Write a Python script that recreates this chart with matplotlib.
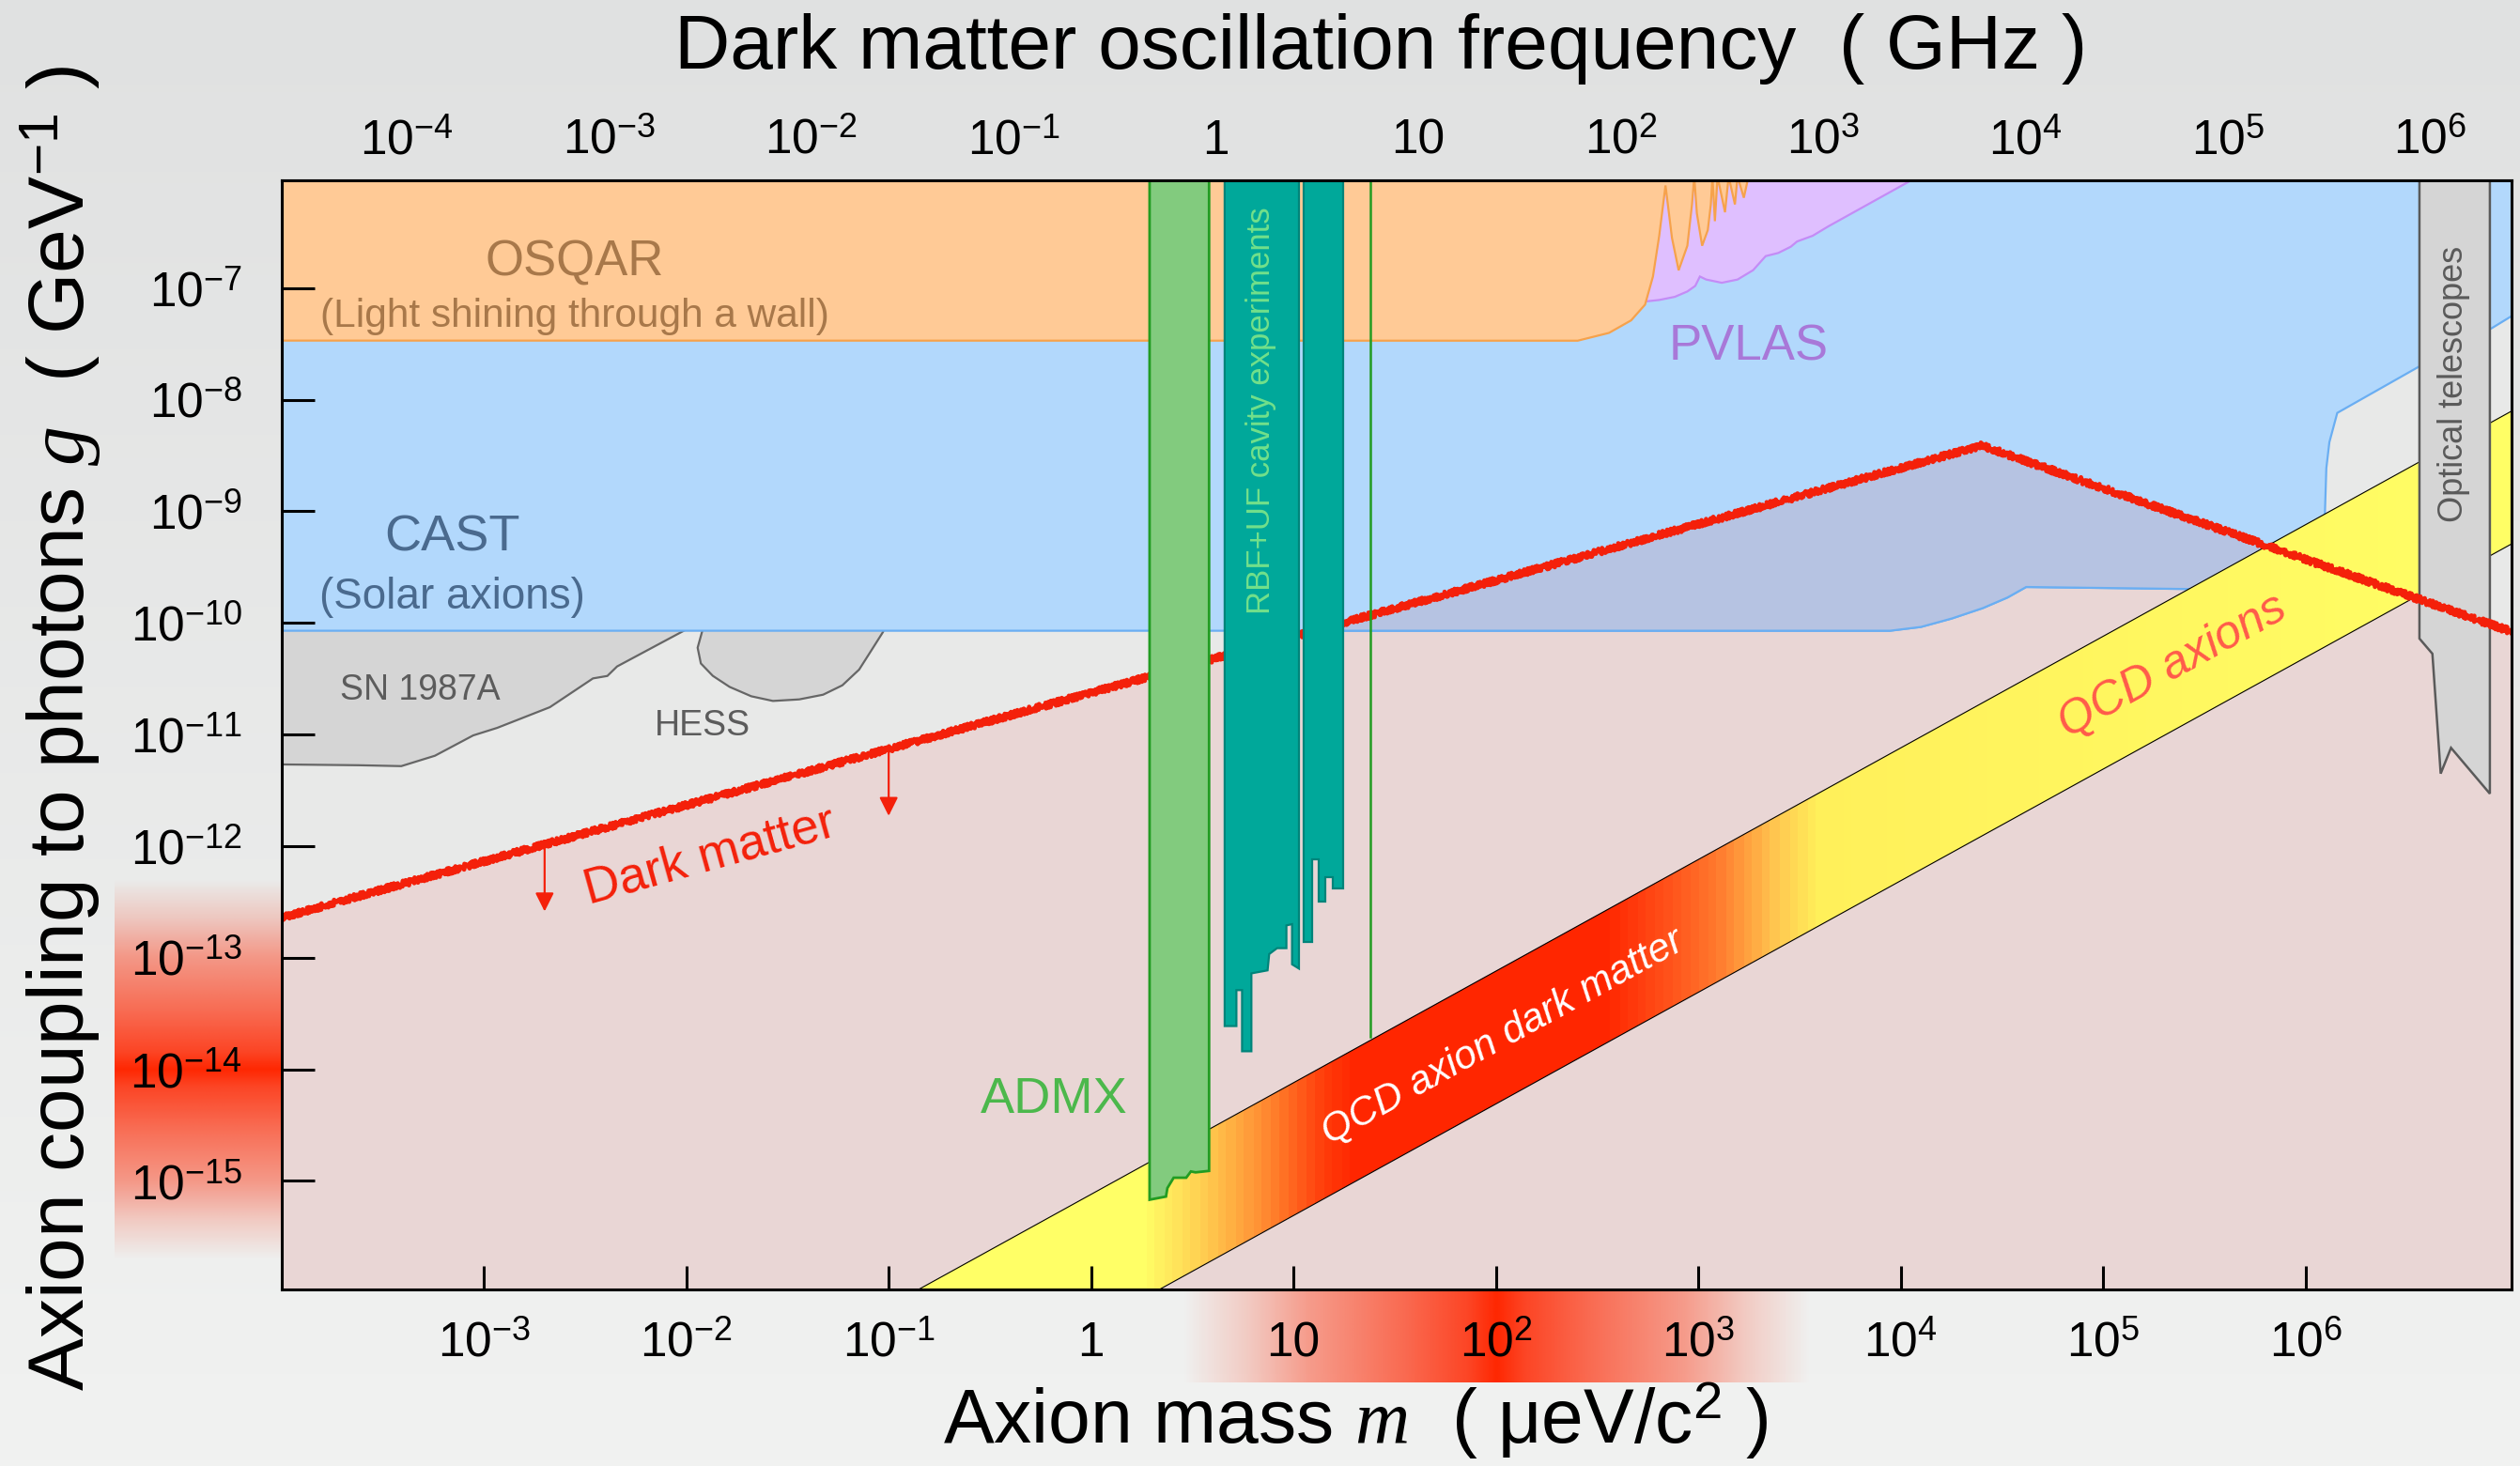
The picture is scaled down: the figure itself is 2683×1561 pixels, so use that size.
import numpy as np
import matplotlib.pyplot as plt
from matplotlib.colors import LinearSegmentedColormap, Normalize, to_rgb
from matplotlib.patches import Polygon
from matplotlib.ticker import FixedLocator, FuncFormatter, NullLocator

plt.rcParams['font.family'] = ['Liberation Sans', 'DejaVu Sans']
plt.rcParams['mathtext.fontset'] = 'custom'
plt.rcParams['mathtext.rm'] = 'Liberation Sans'
plt.rcParams['mathtext.it'] = 'Liberation Serif:italic'
plt.rcParams['mathtext.bf'] = 'Liberation Sans:bold'

# ranges, log10 of mass (μeV) and coupling (GeV^-1)
log_m_range = (-4.0, 7.02)
log_g_range = (-15.97, -6.03)
GHZ_PER_UEV = 0.2418

mass_ticks = [1e-3, 1e-2, 1e-1, 1, 10, 1e2, 1e3, 1e4, 1e5, 1e6]
freq_ticks = [1e-4, 1e-3, 1e-2, 1e-1, 1, 10, 1e2, 1e3, 1e4, 1e5, 1e6]
g_ticks = [1e-7, 1e-8, 1e-9, 1e-10, 1e-11, 1e-12, 1e-13, 1e-14, 1e-15]

# excluded regions, all as (log10 m, log10 g)
osqar_lm = [-4.1, 2.404, 2.559, 2.668, 2.737, 2.776, 2.807, 2.838, 2.870, 2.903, 2.946,
            2.969, 2.980, 2.993, 3.019, 3.047, 3.062, 3.070, 3.082, 3.095, 3.132, 3.150,
            3.181, 3.194, 3.225, 3.248, 3.30, -4.1]
osqar_lg = [-7.47, -7.471, -7.401, -7.289, -7.148, -6.896, -6.531, -6.08, -6.55, -6.84, -6.62,
            -6.25, -6.0, -6.33, -6.62, -6.48, -6.25, -6.0, -6.40, -6.0, -6.32, -6.0,
            -6.25, -6.0, -6.19, -6.0, -5.9, -5.9]

pvlas_lm = [2.70, 2.737, 2.807, 2.884, 2.946, 2.985, 3.008, 3.039, 3.116, 3.194, 3.271, 3.333,
            3.395, 3.457, 3.488, 3.565, 3.642, 4.060, 4.15, 2.70]
pvlas_lg = [-7.12, -7.120, -7.106, -7.078, -7.030, -6.980, -6.896, -6.923, -6.952, -6.923,
            -6.839, -6.713, -6.685, -6.629, -6.582, -6.531, -6.447, -6.026, -5.9, -5.9]

cast_lm = [-4.1, 3.947, 4.10, 4.253, 4.406, 4.528, 4.62, 5.461, 6.095, 6.103, 6.118, 6.157,
           6.56, 6.923, 7.1, 7.1, -4.1]
cast_lg = [-10.07, -10.07, -10.036, -9.96, -9.867, -9.772, -9.678, -9.697, -9.077, -8.613,
           -8.381, -8.118, -7.704, -7.356, -7.16, -5.9, -5.9]

sn1987a_lm = [-4.1, -1.94, -2.342, -2.39, -2.461, -2.674, -2.934, -3.053, -3.242, -3.408, -3.62, -4.1]
sn1987a_lg = [-10.0, -10.0, -10.39, -10.475, -10.497, -10.755, -10.94, -11.008, -11.19, -11.283,
              -11.275, -11.266]

hess_lm = [-1.91, -1.944, -1.928, -1.869, -1.786, -1.679, -1.572, -1.442, -1.324, -1.229,
           -1.146, -1.087, -1.028, -1.01]
hess_lg = [-10.0, -10.222, -10.363, -10.474, -10.573, -10.657, -10.699, -10.685, -10.643,
           -10.559, -10.418, -10.25, -10.081, -10.0]

admx_lm = [0.289, 0.289, 0.370, 0.377, 0.408, 0.470, 0.493, 0.516, 0.583, 0.583]
admx_lg = [-5.9, -15.168, -15.14, -15.064, -14.971, -14.971, -14.915, -14.923, -14.91, -5.9]
admx_high_lm = 1.378
admx_high_lg = -13.71

rbf1_lm = [0.660, 0.660, 0.718, 0.718, 0.746, 0.746, 0.792, 0.792, 0.872, 0.880, 0.919, 0.965,
           0.965, 0.993, 0.993, 1.027, 1.027]
rbf1_lg = [-5.9, -13.612, -13.612, -13.290, -13.290, -13.838, -13.838, -13.140, -13.113, -12.967,
           -12.914, -12.914, -12.710, -12.699, -13.059, -13.097, -5.9]
rbf2_lm = [1.052, 1.052, 1.092, 1.092, 1.123, 1.123, 1.159, 1.159, 1.194, 1.194, 1.247, 1.247]
rbf2_lg = [-5.9, -12.860, -12.860, -12.119, -12.119, -12.496, -12.496, -12.280, -12.280, -12.377,
           -12.377, -5.9]

telescope_lm = [6.563, 6.563, 6.627, 6.668, 6.719, 6.911, 6.911]
telescope_lg = [-5.9, -10.14, -10.276, -11.35, -11.119, -11.53, -5.9]

# dark matter upper bound (kinked line) and the arrows hanging from it
dm_lm = [-4.0, 4.40, 7.02]
dm_lg = [-12.64, -8.41, -10.08]
dm_arrow_lm = [-2.70, -1.0]
dm_arrow_drop = 0.6

# QCD axion band: g = m * 10**ratio
qcd_upper_ratio = -15.12
qcd_lower_ratio = -16.31
band_stops_lm = [-4.1, 0.25, 0.55, 0.85, 1.15, 1.3, 2.55, 2.85, 3.1, 3.4, 3.6, 7.2]
band_stops_col = ['#ffff66', '#ffff66', '#ffcd50', '#ff8c32', '#ff3c0a', '#ff2600', '#ff2600',
                  '#ff5019', '#ff782d', '#ffc850', '#fff05a', '#ffff66']

# glow behind the dark-matter parts of both axes
glow_pos = [0, 0.09, 0.3, 0.6, 0.8, 1.0]
glow_alpha = [1, 0.85, 0.66, 0.42, 0.18, 0]
glow_g_center, glow_g_half = -14.0, 1.7
glow_m_center, glow_m_half = 2.0, 1.55

red = '#f4200a'

fig = plt.figure(figsize=(26.83, 15.61), dpi=100)

# soft background, a touch darker at the top
bg_top = np.array(to_rgb('#e0e1e1'))
bg_bot = np.array(to_rgb('#f1f2f1'))
t = np.linspace(0, 1, 256)[:, None, None]
bg = fig.add_axes([0, 0, 1, 1], zorder=-3)
bg.imshow(bg_top[None, None, :] * (1 - t) + bg_bot[None, None, :] * t,
          aspect='auto', extent=[0, 1, 0, 1], origin='upper')
bg.axis('off')

ax_left, ax_bottom, ax_w, ax_h = 0.1117, 0.1206, 0.8851, 0.7567
ax = fig.add_axes([ax_left, ax_bottom, ax_w, ax_h])
ax.set_xscale('log')
ax.set_yscale('log')
ax.set_xlim(10 ** log_m_range[0], 10 ** log_m_range[1])
ax.set_ylim(10 ** log_g_range[0], 10 ** log_g_range[1])
ax.set_facecolor('#e8e9e8')


def glow_rgba(d, half):
    a = np.interp(np.abs(d) / half, glow_pos, glow_alpha)
    rgba = np.zeros((len(d), 4))
    rgba[:, :3] = to_rgb('#ff2600')
    rgba[:, 3] = a
    return rgba


# red glow along the coupling axis
gl = fig.add_axes([0.0456, ax_bottom, ax_left - 0.0456, ax_h], zorder=-1)
lg_rows = np.linspace(glow_g_center - glow_g_half, glow_g_center + glow_g_half, 400)
gl.imshow(glow_rgba(lg_rows - glow_g_center, glow_g_half)[:, None, :], aspect='auto',
          extent=[0, 1, lg_rows[0], lg_rows[-1]], origin='lower', interpolation='bilinear')
gl.set_xlim(0, 1)
gl.set_ylim(*log_g_range)
gl.axis('off')

# red glow along the mass axis
gb = fig.add_axes([ax_left, 0.0569, ax_w, 0.0624], zorder=-1)
lm_cols = np.linspace(glow_m_center - glow_m_half, glow_m_center + glow_m_half, 400)
gb.imshow(glow_rgba(lm_cols - glow_m_center, glow_m_half)[None, :, :], aspect='auto',
          extent=[lm_cols[0], lm_cols[-1], 0, 1], origin='lower', interpolation='bilinear')
gb.set_xlim(*log_m_range)
gb.set_ylim(0, 1)
gb.axis('off')


def region(lm, lg, **kw):
    p = Polygon(np.column_stack([10 ** np.asarray(lm), 10 ** np.asarray(lg)]), closed=True, **kw)
    ax.add_patch(p)
    return p


# region below the dark matter line
dm_region = region(dm_lm + [dm_lm[-1], dm_lm[0]], dm_lg + [-17, -17],
                   facecolor='#e9d6d5', edgecolor='none', zorder=1)

region(sn1987a_lm, sn1987a_lg, facecolor='#d5d5d5', edgecolor='#666666', lw=1.6, zorder=1.5)
region(hess_lm, hess_lg, facecolor='#d5d5d5', edgecolor='#666666', lw=1.6, zorder=1.5)

region(cast_lm, cast_lg, facecolor='#b2d8fc', edgecolor='#6aaef2', lw=1.6, zorder=2)
cast_over = region(cast_lm, cast_lg, facecolor='#b6c3e2', edgecolor='#6aaef2', lw=1.6, zorder=2.1)
cast_over.set_clip_path(dm_region)
cast_over.set_clip_box(ax.bbox)

region(pvlas_lm, pvlas_lg, facecolor='#dfbfff', edgecolor='#c48cf6', lw=1.6, zorder=2.3)
region(osqar_lm, osqar_lg, facecolor='#ffca96', edgecolor='#f6a24c', lw=1.6, zorder=2.4)

# QCD axion band with dark matter colouring along the mass axis
band_edges = np.linspace(band_stops_lm[0], band_stops_lm[-1], 900)
band_cmap = LinearSegmentedColormap.from_list(
    'qcd', [((s - band_stops_lm[0]) / (band_stops_lm[-1] - band_stops_lm[0]), c)
            for s, c in zip(band_stops_lm, band_stops_col)])
mesh = ax.pcolormesh(10 ** band_edges, [1e-18, 1e-5],
                     (0.5 * (band_edges[:-1] + band_edges[1:]))[None, :],
                     cmap=band_cmap, norm=Normalize(band_stops_lm[0], band_stops_lm[-1]),
                     shading='flat', zorder=3)
blm = np.array([band_stops_lm[0], band_stops_lm[-1]])
band_patch = Polygon(np.column_stack([10 ** np.r_[blm, blm[::-1]],
                                      10 ** np.r_[blm + qcd_upper_ratio, blm[::-1] + qcd_lower_ratio]]),
                     closed=True, transform=ax.transData)
mesh.set_clip_path(band_patch)
mesh.set_clip_box(ax.bbox)
for ratio in (qcd_upper_ratio, qcd_lower_ratio):
    ax.plot(10 ** blm, 10 ** (blm + ratio), color='black', lw=0.8, zorder=3.1)

region(telescope_lm, telescope_lg, facecolor='#d5d5d5', edgecolor='#5a5a5a', lw=1.8, zorder=3.5)

# dark matter line
dm_line, = ax.plot(10 ** np.array(dm_lm), 10 ** np.array(dm_lg), color=red, lw=3.4, zorder=4)
dm_line.set_sketch_params(scale=3.2, length=3, randomness=2)
for alm in dm_arrow_lm:
    start = np.interp(alm, dm_lm, dm_lg)
    ax.annotate('', xy=(10 ** alm, 10 ** (start - dm_arrow_drop)), xytext=(10 ** alm, 10 ** start),
                arrowprops=dict(arrowstyle='-|>,head_length=0.6,head_width=0.3', color=red, lw=1.6,
                                mutation_scale=20, shrinkA=0, shrinkB=0), zorder=4)

# haloscopes
region(admx_lm, admx_lg, facecolor='#82cb7e', edgecolor='#229c22', lw=2.0, zorder=5)
ax.plot([10 ** admx_high_lm] * 2, [10 ** admx_high_lg, 1e-5], color='#229c22', lw=1.8, zorder=5)
region(rbf1_lm, rbf1_lg, facecolor='#00a89a', edgecolor='#00847a', lw=1.6, zorder=5)
region(rbf2_lm, rbf2_lg, facecolor='#00a89a', edgecolor='#00847a', lw=1.6, zorder=5)


def screen_angle(lm0, lg0, lm1, lg1):
    p0 = ax.transData.transform((10 ** lm0, 10 ** lg0))
    p1 = ax.transData.transform((10 ** lm1, 10 ** lg1))
    return np.degrees(np.arctan2(p1[1] - p0[1], p1[0] - p0[0]))


dm_angle = screen_angle(dm_lm[0], dm_lg[0], dm_lm[1], dm_lg[1])
band_angle = screen_angle(0, qcd_upper_ratio, 1, 1 + qcd_upper_ratio)

labels = [
    (-2.551, -6.774, 'OSQAR', '#a8784a', 38, 0, 'normal'),
    (-2.551, -7.25, '(Light shining through a wall)', '#a8784a', 30.5, 0, 'normal'),
    (-3.155, -9.238, 'CAST', '#4a6a8e', 39, 0, 'normal'),
    (-3.155, -9.77, '(Solar axions)', '#4a6a8e', 33, 0, 'normal'),
    (3.247, -7.524, 'PVLAS', '#a878d8', 38, 0, 'normal'),
    (-3.313, -10.60, 'SN 1987A', '#5c5c5c', 27, 0, 'normal'),
    (-1.92, -10.92, 'HESS', '#5c5c5c', 27, 0, 'normal'),
    (-0.184, -14.27, 'ADMX', '#4cb84c', 39, 0, 'normal'),
    (0.840, -8.10, 'RBF+UF cavity experiments', '#72e08a', 25, 90, 'normal'),
    (6.734, -7.856, 'Optical telescopes', '#5a5a5a', 26, 90, 'normal'),
    (-1.884, -12.09, 'Dark matter', red, 38, dm_angle, 'normal'),
    (5.344, -10.39, 'QCD axions', '#ff5a4a', 36, band_angle, 'italic'),
    (2.033, -13.705, 'QCD axion dark matter', 'white', 30.5, band_angle, 'italic'),
]
for lm, lg, txt, col, size, rot, style in labels:
    ax.text(10 ** lm, 10 ** lg, txt, color=col, fontsize=size, rotation=rot, style=style,
            ha='center', va='center', rotation_mode='anchor', zorder=6)


def pow10_label(v, pos=None):
    e = int(round(np.log10(v)))
    if e == 0:
        return '1'
    if e == 1:
        return '10'
    return r'$10^{%d}$' % e


ax.xaxis.set_major_locator(FixedLocator(mass_ticks))
ax.xaxis.set_minor_locator(NullLocator())
ax.xaxis.set_major_formatter(FuncFormatter(pow10_label))
ax.yaxis.set_major_locator(FixedLocator(g_ticks))
ax.yaxis.set_minor_locator(NullLocator())
ax.yaxis.set_major_formatter(FuncFormatter(pow10_label))
ax.tick_params(axis='x', direction='in', length=18, width=2.2, labelsize=37, pad=24, top=False)
ax.tick_params(axis='y', direction='in', length=25, width=2.2, labelsize=37, pad=30, right=False)
ax.xaxis.set_zorder(20)
ax.yaxis.set_zorder(20)
for sp in ax.spines.values():
    sp.set_linewidth(2.2)
    sp.set_zorder(20)

secax = ax.secondary_xaxis('top', functions=(lambda m: m * GHZ_PER_UEV, lambda f: f / GHZ_PER_UEV))
secax.xaxis.set_major_locator(FixedLocator(freq_ticks))
secax.xaxis.set_minor_locator(NullLocator())
secax.xaxis.set_major_formatter(FuncFormatter(pow10_label))
secax.tick_params(axis='x', direction='in', length=18, width=2.2, labelsize=37, pad=12)
secax.spines['top'].set_linewidth(2.2)

fig.text(0.548, 0.967, 'Dark matter oscillation frequency  ( GHz )', ha='center', va='center', fontsize=59)
fig.text(0.538, 0.031, r'Axion mass $m$  ( μeV/c$^{2}$ )', ha='center', va='center', fontsize=58)
fig.text(0.0242, 0.503, r'Axion coupling to photons $g$  ( GeV$^{-1}$ )', ha='center', va='center',
         fontsize=60.5, rotation=90)

fig.savefig('out.png', dpi=100)
